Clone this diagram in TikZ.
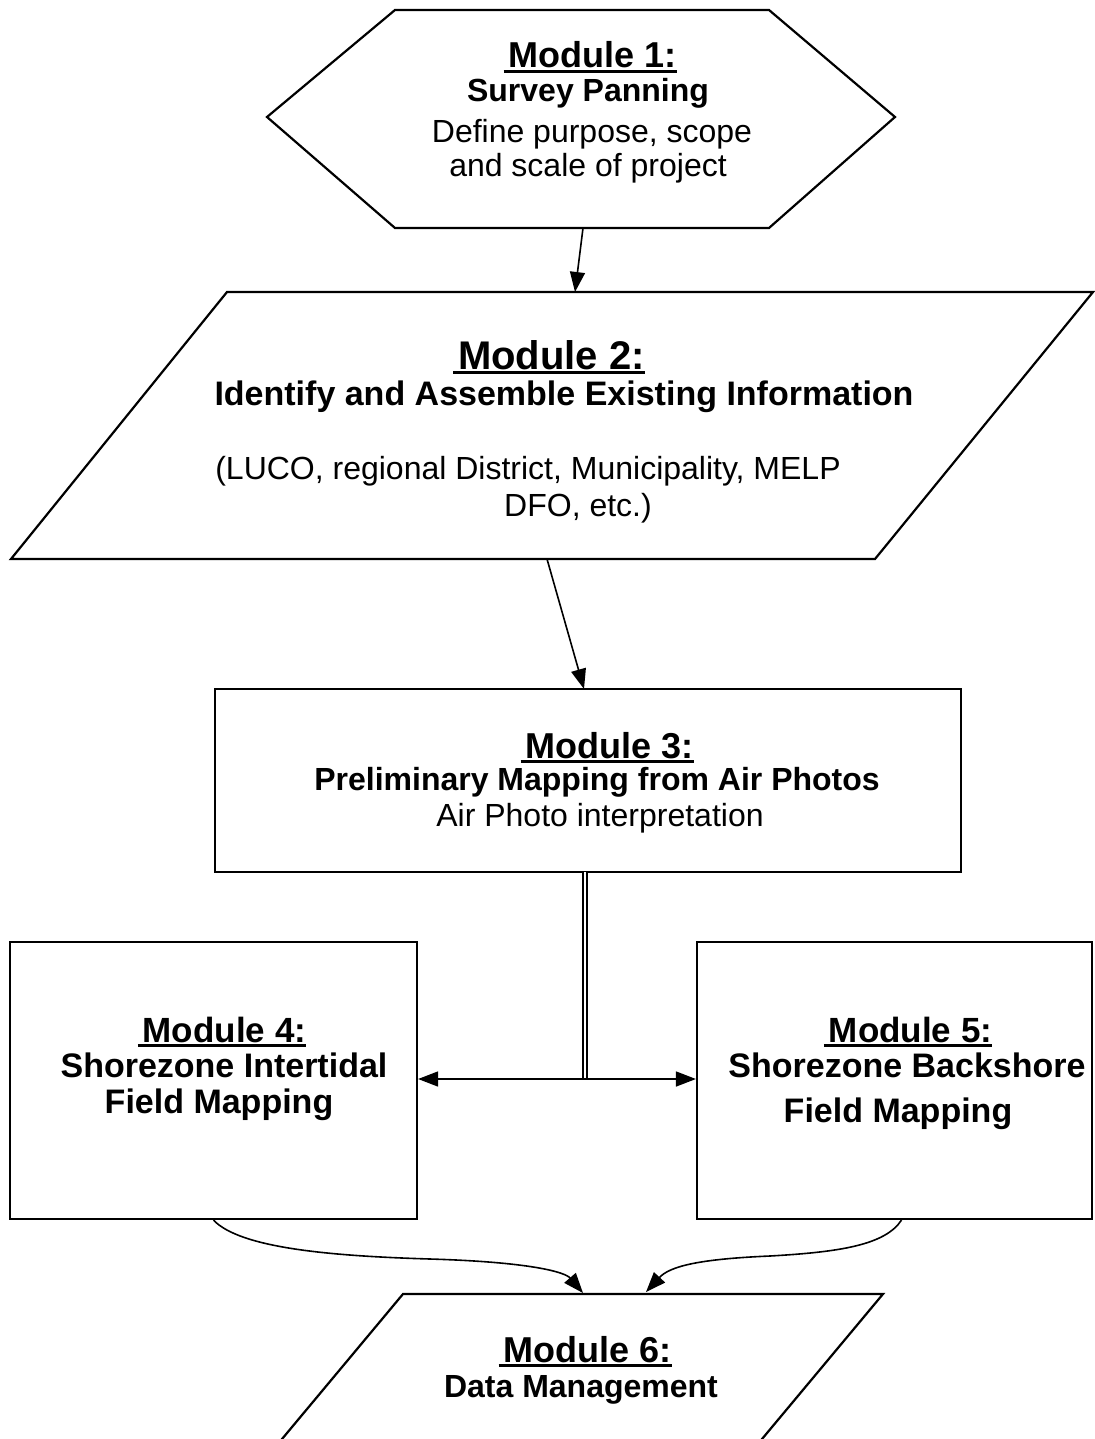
\documentclass[tikz,border=0pt]{standalone}
\usepackage{fontspec}
\setmainfont{Liberation Sans}
\usetikzlibrary{arrows.meta}
\newcommand\ulhead[1]{\setbox0=\hbox{\hspace{5pt}#1}\rlap{\rule[-5pt]{\wd0}{2.8pt}}\box0}
\begin{document}
\begin{tikzpicture}[x=1pt,y=-1pt,
  outline/.style={draw, line width=2.2pt, line join=miter},
  boxn/.style={draw, line width=2.2pt, inner sep=0pt},
  hd/.style={anchor=base, inner sep=0pt, font=\fontsize{36}{40}\selectfont\bfseries},
  hdl/.style={anchor=base, inner sep=0pt, font=\fontsize{40}{44}\selectfont\bfseries},
  hds/.style={anchor=base, inner sep=0pt, font=\fontsize{35}{40}\selectfont\bfseries},
  bt/.style={anchor=base, inner sep=0pt, font=\fontsize{32}{36}\selectfont\bfseries},
  btl/.style={anchor=base, inner sep=0pt, font=\fontsize{34}{38}\selectfont\bfseries},
  rt/.style={anchor=base, inner sep=0pt, font=\fontsize{32}{36}\selectfont},
  arr/.style={-{Triangle[length=20pt,width=15pt]}, line width=1.6pt},
  darr/.style={{Triangle[length=20pt,width=15pt]}-{Triangle[length=20pt,width=15pt]}, line width=1.6pt},
  dbl/.style={double, double distance=2.6pt, line width=1.4pt}]
\fill[white] (0,0) rectangle (1094,1439);
\useasboundingbox (0,0) rectangle (1094,1439);

% Module 1 hexagon
\draw[outline] (267,117) -- (395,10) -- (769,10) -- (895,117) -- (769,228) -- (395,228) -- cycle;
\node[hd] (m1h) at (590,68) {\ulhead{Module 1:}};
\node[bt] (m1a) at (588,102) {Survey Panning};
\node[rt] (m1b) at (592,143) {Define purpose, scope};
\node[rt] (m1c) at (588,177) {and scale of project};

% Module 2 parallelogram
\draw[outline] (227,292) -- (1093,292) -- (875,559) -- (11,559) -- cycle;
\node[hdl] (m2h) at (549,369) {\ulhead{Module 2:}};
\node[btl] (m2a) at (564,405) {Identify and Assemble Existing Information};
\node[rt] (m2b) at (528,479) {(LUCO, regional District, Municipality, MELP};
\node[rt] (m2c) at (578,516) {DFO, etc.)};

% Module 3 box
\node[boxn, minimum width=746pt, minimum height=183pt] (b3) at (588,780.5) {};
\node[hd] (m3h) at (607,758) {\ulhead{Module 3:}};
\node[bt] (m3a) at (597,790) {Preliminary Mapping from Air Photos};
\node[rt] (m3b) at (600,826) {Air Photo interpretation};

% Module 4 box
\node[boxn, minimum width=407pt, minimum height=277pt] (b4) at (213.5,1080.5) {};
\node[hds] (m4h) at (222,1042) {\ulhead{Module 4:}};
\node[btl] (m4a) at (224,1077) {Shorezone Intertidal};
\node[btl] (m4b) at (219,1113) {Field Mapping};

% Module 5 box
\node[boxn, minimum width=395pt, minimum height=277pt] (b5) at (894.5,1080.5) {};
\node[hds] (m5h) at (908,1042) {\ulhead{Module 5:}};
\node[btl] (m5a) at (907,1077) {Shorezone Backshore};
\node[btl] (m5b) at (898,1122) {Field Mapping};

% Module 6 parallelogram
\draw[outline] (277,1445) -- (403,1294) -- (883,1294) -- (757,1445);
\node[hd] (m6h) at (585,1362) {\ulhead{Module 6:}};
\node[bt] (m6a) at (581,1397) {Data Management};

% connector coordinates
\coordinate (h1b) at (583,228);
\coordinate (p2t) at (575,292);
\coordinate (p2b) at (547,559);
\coordinate (b3t) at (584,689);
\coordinate (b3s) at (585,872);
\coordinate (j) at (585,1079);
\coordinate (p6a) at (583,1293);
\coordinate (p6b) at (646,1292);

\draw[arr] (h1b) -- (p2t);
\draw[arr] (p2b) -- (b3t);
\draw[dbl] (b3s) -- (j);
\draw[darr] (b4.east |- j) -- (b5.west |- j);
\draw[arr] (b4.south) .. controls (240,1248) and (330,1256) .. (430,1259)
   .. controls (530,1262) and (565,1272) .. (p6a);
\draw[arr] ([xshift=7pt]b5.south) .. controls (885,1245) and (840,1252) .. (770,1256)
   .. controls (700,1259) and (670,1266) .. (p6b);
\end{tikzpicture}
\end{document}
